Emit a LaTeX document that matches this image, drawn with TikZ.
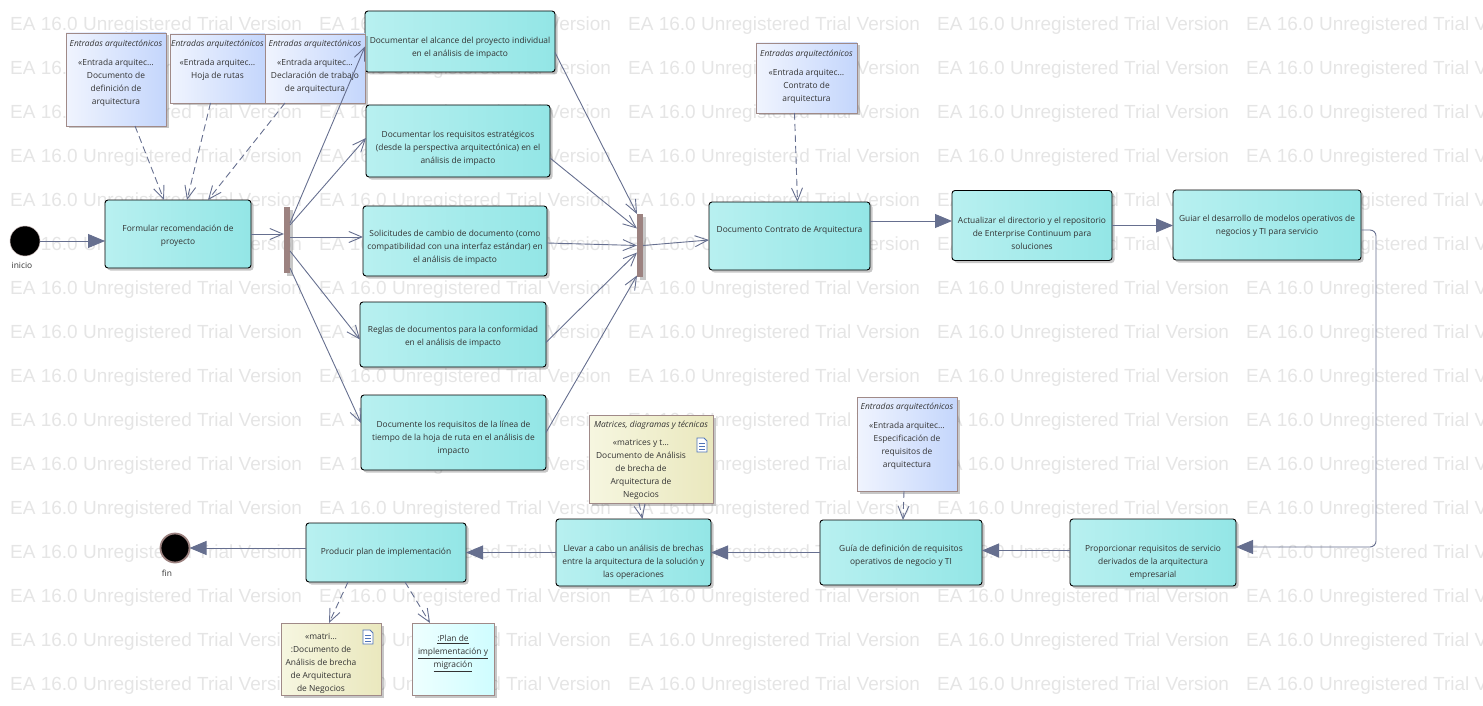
\documentclass[tikz,border=0pt]{standalone}
\usepackage{fontspec}
\setmainfont{Open Sans}
\newfontfamily\wmfont{Liberation Sans}
\usetikzlibrary{arrows.meta,shadows}
\definecolor{linkblue}{HTML}{666F8F}
\definecolor{barbrown}{HTML}{9C8280}
\definecolor{noteedge}{HTML}{A08A88}
\definecolor{textgray}{HTML}{333333}
\definecolor{boxleft}{HTML}{B8F0F0}
\definecolor{boxright}{HTML}{93E6E6}
\definecolor{noteleft}{HTML}{F0F4FE}
\definecolor{noteright}{HTML}{C4D6FC}
\definecolor{yellowleft}{HTML}{F6F6E0}
\definecolor{yellowright}{HTML}{EAE8BE}
\definecolor{cyanleft}{HTML}{EEFFFF}
\definecolor{cyanright}{HTML}{CFFDFF}
\definecolor{iconblue}{HTML}{4F74B8}
\begin{document}
\begin{tikzpicture}[x=1pt,y=-1pt]
  \tikzset{watermark/.style={font=\wmfont\fontsize{19}{20}\selectfont,text=black!10,inner sep=0pt,anchor=west}}
  \tikzset{shadowed/.style={drop shadow={shadow xshift=2.5pt,shadow yshift=-2.5pt,fill=black,opacity=0.22}}}
  \tikzset{actionbox/.style={shadowed,draw=black,line width=0.9pt,rounded corners=3pt,left color=boxleft,right color=boxright,inner sep=0pt,outer sep=0pt}}
  \tikzset{boxtext/.style={inner sep=0pt,align=center,text=textgray,font=\fontsize{8.4}{13}\selectfont}}
  \tikzset{notebox/.style={shadowed,draw=noteedge,line width=0.9pt,inner sep=0pt,outer sep=0pt,left color=noteleft,right color=noteright}}
  \tikzset{yellownote/.style={notebox,left color=yellowleft,right color=yellowright}}
  \tikzset{cyannote/.style={notebox,left color=cyanleft,right color=cyanright}}
  \tikzset{notetext/.style={boxtext,anchor=north}}
  \tikzset{forkbar/.style={shadowed,fill=barbrown,inner sep=0pt,outer sep=0pt,minimum width=6,minimum height=#1}}
  \tikzset{startdot/.style={circle,fill=black,draw=barbrown!60,line width=0.5pt,inner sep=0pt,outer sep=0pt,minimum size=30}}
  \tikzset{enddot/.style={circle,fill=black,draw=barbrown,line width=1.8pt,inner sep=0pt,outer sep=0pt,minimum size=29}}
  \tikzset{flowlink/.style={draw=linkblue,line width=0.9pt,-{Triangle[length=17pt,width=14pt,fill=linkblue]}}}
  \tikzset{openlink/.style={draw=linkblue,line width=0.9pt,-{Straight Barb[length=13pt,width=11pt]}}}
  \tikzset{deplink/.style={openlink,dash pattern=on 7pt off 4pt}}
  \tikzset{pics/docicon/.style={code={
    \draw[draw=iconblue,fill=white,line width=0.8pt] (-5,-7) -- (2,-7) -- (5,-4) -- (5,7) -- (-5,7) -- cycle;
    \draw[draw=iconblue,line width=0.6pt] (-3,-2) -- (3,-2) (-3,1) -- (3,1) (-3,4) -- (3,4);
  }}}

  \useasboundingbox (0,0) rectangle (1483,706);
  \begin{scope}
    \clip (0,0) rectangle (1483,706);
    \foreach \row in {0,...,15}
      \foreach \col in {0,...,4}
        \node[watermark] (wm\row-\col) at ({10+309*\col},{26+44*\row}) {EA 16.0 Unregistered Trial Version};
  \end{scope}

  \node[startdot] (inicio) at (25,241) {};
  \node[boxtext] (iniciolabel) at (22,265) {inicio};
  \node[enddot] (fin) at (175,548) {};
  \node[boxtext] (finlabel) at (167,573) {fin};

  \node[actionbox,minimum width=146,minimum height=68] (formular) at (178,234) {};
  \node[boxtext] (formulartext) at ([yshift=-2pt]formular.center) {Formular recomendación de\\proyecto};
  \node[forkbar=66] (forkA) at (287,240) {};
  \node[actionbox,minimum width=190,minimum height=61] (alcance) at (460,41.5) {};
  \node[boxtext] (alcancetext) at ([yshift=-6pt]alcance.center) {Documentar el alcance del proyecto individual\\en el análisis de impacto};
  \node[actionbox,minimum width=184,minimum height=72] (requisitos) at (458,141) {};
  \node[boxtext] (requisitostext) at ([yshift=-7pt]requisitos.center) {Documentar los requisitos estratégicos\\(desde la perspectiva arquitectónica) en el\\análisis de impacto};
  \node[actionbox,minimum width=184,minimum height=70] (solicitudes) at (455,241) {};
  \node[boxtext] (solicitudestext) at ([yshift=-6pt]solicitudes.center) {Solicitudes de cambio de documento (como\\compatibilidad con una interfaz estándar) en\\el análisis de impacto};
  \node[actionbox,minimum width=186,minimum height=65] (reglas) at (453,334.5) {};
  \node[boxtext] (reglastext) at ([yshift=-2pt]reglas.center) {Reglas de documentos para la conformidad\\en el análisis de impacto};
  \node[actionbox,minimum width=185,minimum height=75] (linea) at (453.5,432.5) {};
  \node[boxtext] (lineatext) at ([yshift=-6pt]linea.center) {Documente los requisitos de la línea de\\tiempo de la hoja de ruta en el análisis de\\impacto};
  \node[forkbar=63] (forkB) at (640,245.5) {};
  \node[actionbox,minimum width=161,minimum height=68] (contrato) at (789.5,236) {};
  \node[boxtext] (contratotext) at ([yshift=6pt]contrato.center) {Documento Contrato de Arquitectura};
  \node[actionbox,minimum width=160,minimum height=70] (actualizar) at (1032,225.5) {};
  \node[boxtext] (actualizartext) at ([yshift=-8pt]actualizar.center) {Actualizar el directorio y el repositorio\\de Enterprise Continuum para\\soluciones};
  \node[actionbox,minimum width=188,minimum height=70] (guiar) at (1267,225) {};
  \node[boxtext] (guiartext) at ([yshift=-1pt]guiar.center) {Guiar el desarrollo de modelos operativos de\\negocios y TI para servicio};
  \node[actionbox,minimum width=166,minimum height=67] (proporcionar) at (1153,552.5) {};
  \node[boxtext] (proporcionartext) at ([yshift=-10pt]proporcionar.center) {Proporcionar requisitos de servicio\\derivados de la arquitectura\\empresarial};
  \node[actionbox,minimum width=162,minimum height=65] (guia) at (901,552.5) {};
  \node[boxtext] (guiatext) at ([yshift=-3pt]guia.center) {Guía de definición de requisitos\\operativos de negocio y TI};
  \node[actionbox,minimum width=155,minimum height=67] (brechas) at (633.5,552.5) {};
  \node[boxtext] (brechastext) at ([yshift=-10pt]brechas.center) {Llevar a cabo un análisis de brechas\\entre la arquitectura de la solución y\\las operaciones};
  \node[actionbox,minimum width=160,minimum height=59] (producir) at (386,552.5) {};
  \node[boxtext] (producirtext) at (producir.center) {Producir plan de implementación};

  \node[notebox,minimum width=100,minimum height=93] (notaA) at (116,79.5) {};
  \node[notetext] (notaAtext) at ([yshift=-6.5pt]notaA.north) {\textit{Entradas arquitectónicos}\\[6pt]«Entrada arquitec…\\Documento de\\definición de\\arquitectura};
  \node[notebox,minimum width=95,minimum height=69] (notaB) at (217.5,68.5) {};
  \node[notetext] (notaBtext) at ([yshift=-6pt]notaB.north) {\textit{Entradas arquitectónicos}\\[6pt]«Entrada arquitec…\\Hoja de rutas};
  \node[notebox,minimum width=100,minimum height=69] (notaC) at (315,68.5) {};
  \node[notetext] (notaCtext) at ([yshift=-6pt]notaC.north) {\textit{Entradas arquitectónicos}\\[6pt]«Entrada arquitec…\\Declaración de trabajo\\de arquitectura};
  \node[notebox,minimum width=101,minimum height=70] (notaD) at (806.5,78) {};
  \node[notetext] (notaDtext) at ([yshift=-6.5pt]notaD.north) {\textit{Entradas arquitectónicos}\\[6pt]«Entrada arquitec…\\Contrato de\\arquitectura};
  \node[notebox,minimum width=100,minimum height=94] (notaE) at (907,444) {};
  \node[notetext] (notaEtext) at ([yshift=-6pt]notaE.north) {\textit{Entradas arquitectónicos}\\[6pt]«Entrada arquitec…\\Especificación de\\requisitos de\\arquitectura};
  \node[yellownote,minimum width=124,minimum height=88] (notaF) at (651,459) {};
  \node[notetext] (notaFtitle) at ([yshift=-6pt]notaF.north) {\textit{Matrices, diagramas y técnicas}};
  \node[notetext] (notaFtext) at ([xshift=-10pt,yshift=-24pt]notaF.north) {«matrices y t…\\Documento de Análisis\\de brecha de\\Arquitectura de\\Negocios};
  \path (702,445) pic {docicon};
  \node[yellownote,minimum width=100,minimum height=72] (notaG) at (331,659) {};
  \node[notetext] (notaGtext) at ([xshift=-10pt,yshift=-10pt]notaG.north) {«matri…\\:Documento de\\Análisis de brecha\\de Arquitectura\\de Negocios};
  \path (368,637) pic {docicon};
  \node[cyannote,minimum width=82,minimum height=72] (notaH) at (453,659) {};
  \node[notetext] (notaHtext) at ([yshift=-12pt]notaH.north) {\underline{:Plan de}\\\underline{implementación y}\\\underline{migración}};

  \draw[flowlink] (inicio) -- (inicio -| formular.west);
  \draw[openlink] (formular.east) -- (forkA.west |- formular.east);
  \draw[openlink] ([yshift=17pt]forkA.east) -- ([yshift=-5pt]alcance.west);
  \draw[openlink] ([yshift=15pt]forkA.east) -- ([yshift=3pt]requisitos.west);
  \draw[openlink] ([yshift=3pt]forkA.east) -- ([yshift=4pt]solicitudes.west);
  \draw[openlink] ([yshift=-11pt]forkA.east) -- ([yshift=-5pt]reglas.west);
  \draw[openlink] ([yshift=-28pt]forkA.east) -- ([yshift=9.5pt]linea.west);
  \draw[openlink] ([yshift=-11pt]alcance.east) -- (forkB.north west);
  \draw[openlink] ([yshift=-17pt]requisitos.east) -- ([yshift=17pt]forkB.west);
  \draw[openlink] ([yshift=-2pt]solicitudes.east) -- (forkB.west);
  \draw[openlink] ([yshift=-8pt]reglas.east) -- ([yshift=-7pt]forkB.west);
  \draw[openlink] (linea.east) -- ([yshift=-30pt]forkB.west);
  \draw[openlink] (forkB.east) -- ([yshift=-4pt]contrato.west);
  \draw[flowlink] ([yshift=15pt]contrato.east) -- ([yshift=4.5pt]actualizar.west);
  \draw[flowlink] (actualizar.east) -- (guiar.west |- actualizar.east);
  \draw[draw=linkblue,line width=0.9pt,rounded corners=6pt,-{Triangle[length=17pt,width=14pt,fill=linkblue]}] ([yshift=-5pt]guiar.east) -- ++(15,0) |- ([yshift=5.5pt]proporcionar.east);
  \draw[flowlink] ([yshift=2pt]proporcionar.west) -- ([yshift=2pt]guia.east);
  \draw[flowlink] (guia.west) -- (brechas.east);
  \draw[flowlink] (brechas.west) -- (producir.east);
  \draw[flowlink] ([yshift=4.5pt]producir.west) -- (fin);

  \draw[deplink] ([xshift=19pt]notaA.south) -- ([xshift=-14pt]formular.north);
  \draw[deplink] ([xshift=-7pt]notaB.south) -- ([xshift=9pt]formular.north);
  \draw[deplink] ([xshift=-30pt]notaC.south) -- ([xshift=30pt]formular.north);
  \draw[deplink] ([xshift=-12pt]notaD.south) -- ([xshift=8pt]contrato.north);
  \draw[deplink] ([xshift=-3pt]notaE.south) -- ([xshift=2pt]guia.north);
  \draw[deplink] ([xshift=-12pt]notaF.south) -- ([xshift=9pt]brechas.north);
  \draw[deplink] ([xshift=-38pt]producir.south) -- ([xshift=-2pt]notaG.north);
  \draw[deplink] ([xshift=19pt]producir.south) -- ([xshift=-23pt]notaH.north);
\end{tikzpicture}
\end{document}
